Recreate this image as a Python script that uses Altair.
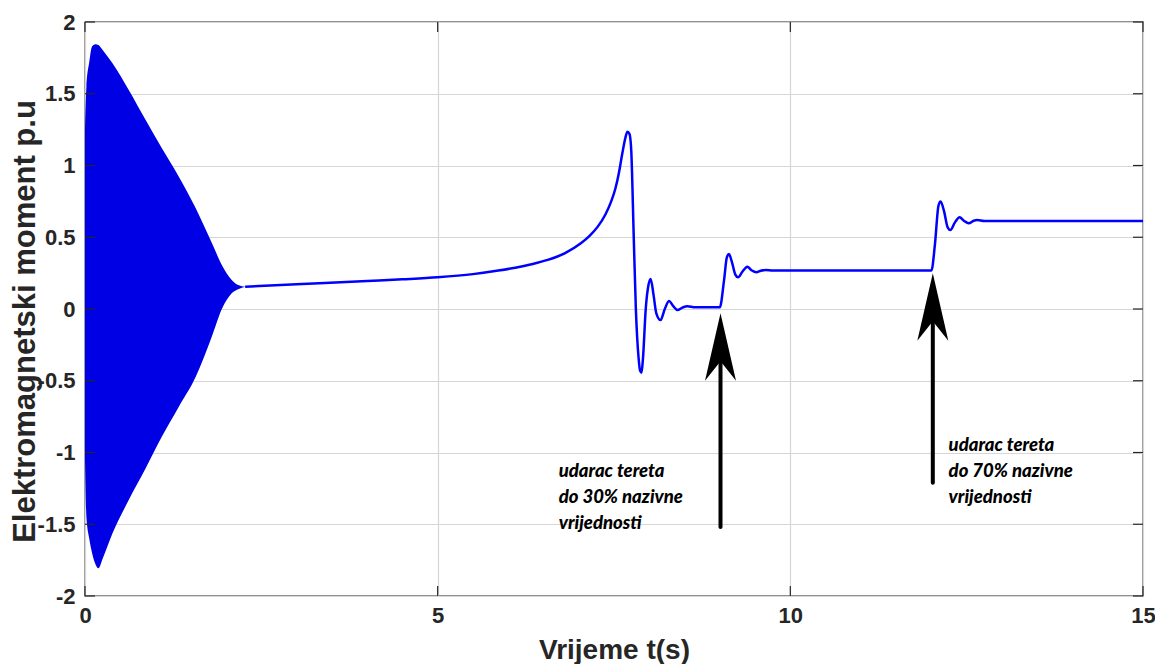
import altair as alt
import pandas as pd

# ---- data ----
# envelope of the dense start-up oscillation (0 .. 2.27 s)
env_t = [0.0, 0.02, 0.06, 0.10, 0.15, 0.19, 0.25, 0.39, 0.62, 0.86, 1.09, 1.33, 1.57, 1.80, 1.94, 2.08, 2.18, 2.27]
env_upper = [1.25, 1.55, 1.72, 1.83, 1.845, 1.84, 1.805, 1.712, 1.526, 1.317, 1.12, 0.922, 0.702, 0.458, 0.307, 0.202, 0.165, 0.155]
env_lower = [-1.05, -1.45, -1.60, -1.70, -1.78, -1.807, -1.74, -1.563, -1.331, -1.110, -0.889, -0.681, -0.472, -0.19, 0.0, 0.11, 0.14, 0.155]

# torque after the start-up transient
line_t = [2.27, 3.0, 4.0, 4.5, 5.0, 5.5, 5.86, 6.1, 6.33, 6.56, 6.8, 7.03, 7.15, 7.27, 7.38, 7.46, 7.52,
          7.57, 7.62, 7.66, 7.69, 7.72, 7.745, 7.78, 7.81, 7.85, 7.87, 7.89, 7.91, 7.95, 7.99, 8.02,
          8.06, 8.10, 8.16, 8.22, 8.28, 8.34, 8.40, 8.47, 8.54, 8.65, 8.80, 9.0, 9.06, 9.10, 9.13,
          9.17, 9.22, 9.26, 9.32, 9.39, 9.45, 9.52, 9.58, 9.65, 9.75, 12.0, 12.05, 12.10, 12.13,
          12.18, 12.23, 12.27, 12.33, 12.40, 12.46, 12.53, 12.60, 12.65, 12.75, 15.0]
line_y = [0.155, 0.172, 0.195, 0.207, 0.221, 0.243, 0.268, 0.288, 0.312, 0.342, 0.388, 0.458, 0.508,
          0.574, 0.66, 0.75, 0.84, 0.95, 1.09, 1.19, 1.236, 1.22, 1.10, 0.50, 0.0, -0.35, -0.43, -0.444,
          -0.35, 0.0, 0.17, 0.209, 0.10, -0.03, -0.077, 0.0, 0.056, 0.02, -0.007, 0.01, 0.02, 0.012,
          0.012, 0.012, 0.20, 0.36, 0.383, 0.33, 0.24, 0.221, 0.26, 0.295, 0.27, 0.256, 0.266, 0.272,
          0.268, 0.268, 0.45, 0.72, 0.75, 0.68, 0.57, 0.55, 0.60, 0.64, 0.615, 0.597, 0.615, 0.62,
          0.613, 0.613]

x_ticks = [0, 5, 10, 15]
y_ticks = [-2, -1.5, -1, -0.5, 0, 0.5, 1, 1.5, 2]

# annotation arrows
arrow_t = [9.01, 12.02]
arrow_tip = [-0.03, 0.249]
arrow_notch = [-0.37, -0.09]
arrow_base = [-1.52, -1.21]

# annotation texts
note_t = [6.716, 12.244]
note_y = [-1.171, -0.99]
note_text = ["udarac tereta\ndo 30% nazivne\nvrijednosti",
             "udarac tereta\ndo 70% nazivne\nvrijednosti"]

# ---- chart ----
W, H = 1058, 574
BLUE = "#0000ff"
FILL = "#0000e4"
AX = "#262626"
xs = alt.Scale(domain=[0, 15], nice=False, zero=False)
ys = alt.Scale(domain=[-2, 2], nice=False, zero=False)

env_df = pd.DataFrame({"t": env_t, "hi": env_upper, "lo": env_lower})
line_df = pd.DataFrame({"t": line_t, "v": line_y})
xt_df = pd.DataFrame({"t": x_ticks})
yt_df = pd.DataFrame({"v": y_ticks})
arr_df = pd.DataFrame({"t": arrow_t, "tip": arrow_tip, "notch": arrow_notch, "base": arrow_base})
note_df = pd.DataFrame({"t": note_t, "v": note_y, "txt": note_text})

label_expr = "datum.value < 0 ? '-' + format(-datum.value, '') : format(datum.value, '')"

x_axis = alt.Axis(values=x_ticks, title="Vrijeme t(s)", grid=True, ticks=False, domain=False,
                  labelFlush=False, labelPadding=9, labelExpr=label_expr,
                  titleX=W / 2, titleY=62, titleBaseline="alphabetic", titleFontSize=28)
y_axis = alt.Axis(values=y_ticks, title="Elektromagnetski moment p.u", grid=True, ticks=False,
                  domain=False, labelPadding=10, labelExpr=label_expr,
                  titleX=-60, titleY=299, titleBaseline="middle", titleFontSize=31)


def X(field):
    return alt.X(field, scale=xs, axis=x_axis)


def Y(field):
    return alt.Y(field, scale=ys, axis=y_axis)


area = alt.Chart(env_df).mark_area(color=FILL, interpolate="monotone", opacity=1).encode(
    x=X("t:Q"), y=Y("lo:Q"), y2="hi:Q",
)

line = alt.Chart(line_df).mark_line(color=BLUE, strokeWidth=2.5, interpolate="monotone").encode(
    x=X("t:Q"), y=Y("v:Q"),
)

tick_style = dict(color=AX, strokeWidth=1.2)
tl = alt.Chart(yt_df).mark_rule(**tick_style).encode(y=Y("v:Q"), x=alt.value(0), x2=alt.value(10))
tr = alt.Chart(yt_df).mark_rule(**tick_style).encode(y=Y("v:Q"), x=alt.value(W - 10), x2=alt.value(W))
tb = alt.Chart(xt_df).mark_rule(**tick_style).encode(x=X("t:Q"), y=alt.value(H - 10), y2=alt.value(H))
tt = alt.Chart(xt_df).mark_rule(**tick_style).encode(x=X("t:Q"), y=alt.value(0), y2=alt.value(10))

shaft = alt.Chart(arr_df).mark_rule(color="black", strokeWidth=4, strokeCap="round").encode(
    x=X("t:Q"), y=Y("base:Q"), y2="notch:Q",
)
head = alt.Chart(arr_df).mark_point(
    shape="M0,0 L0.3875,1.685 L0,1.2 L-0.3875,1.685 Z",
    size=6400, filled=True, color="black", opacity=1, strokeWidth=0,
).encode(x=X("t:Q"), y=Y("tip:Q"))

notes = alt.Chart(note_df).mark_text(
    align="left", baseline="alphabetic", font="Lato", fontStyle="italic", fontWeight=900,
    fontSize=18.5, lineHeight=26, lineBreak="\n", color="black",
).encode(x=X("t:Q"), y=Y("v:Q"), text="txt:N")

chart = alt.layer(area, line, tl, tr, tb, tt, shaft, head, notes).properties(
    width=W, height=H,
    autosize=alt.AutoSizeParams(type="none"),
    padding={"left": 77, "top": 14, "right": 12, "bottom": 68},
).configure_view(
    stroke=AX, strokeWidth=1.3,
).configure_axis(
    labelFont="Liberation Sans", labelFontWeight="bold", labelFontSize=22, labelColor=AX,
    titleFont="Liberation Sans", titleFontWeight="bold", titleColor=AX,
    gridColor="#d6d6d6", gridWidth=1.2, labelOverlap=False,
)

chart.save("out.html", embed_options={"renderer": "svg", "actions": False})
